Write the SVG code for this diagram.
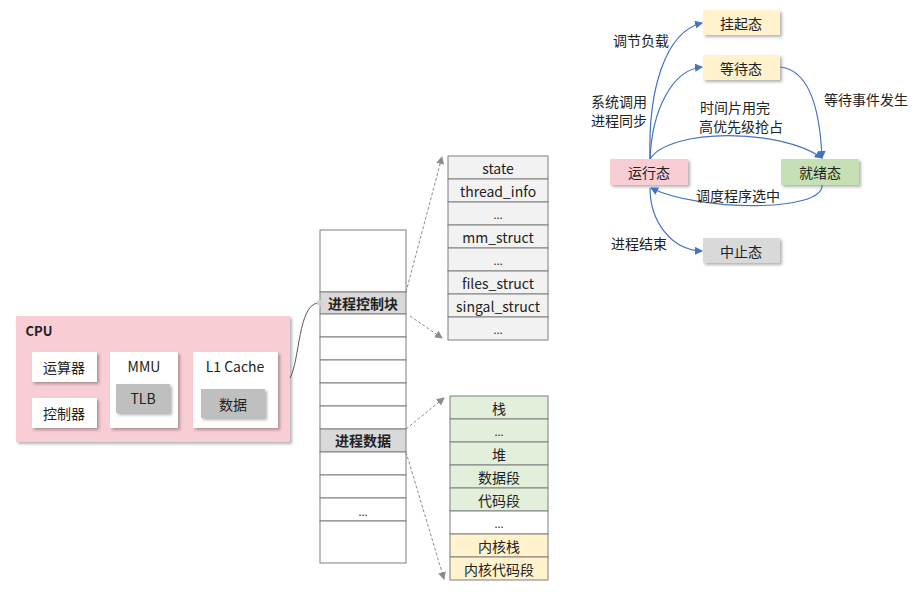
<svg xmlns="http://www.w3.org/2000/svg" width="922" height="592" viewBox="0 0 922 592">
<style>
text{font-family:"Microsoft YaHei","Noto Sans CJK SC","Liberation Sans",sans-serif;font-size:14px;fill:#222;text-anchor:middle;dominant-baseline:central}
.c{stroke:#7f7f7f;stroke-width:1;fill:#fff}
.g{stroke:#7f7f7f;stroke-width:1;fill:#f2f2f2}
.gr{stroke:#7f7f7f;stroke-width:1;fill:#e2efda}
.y{stroke:#7f7f7f;stroke-width:1;fill:#fff2cc}
.hl{stroke:#7f7f7f;stroke-width:1;fill:#d9d9d9}
.s{filter:url(#sh)}
.b{fill:none;stroke:#4472c4;stroke-width:1.2;marker-end:url(#ab)}
.d{fill:none;stroke:#8c8c8c;stroke-width:1;stroke-dasharray:3,2;marker-end:url(#ag)}
.bold{font-weight:bold}
</style>
<defs>
<filter id="sh" x="-10%" y="-10%" width="130%" height="140%"><feDropShadow dx="2" dy="2" stdDeviation="1.5" flood-color="#000" flood-opacity="0.3"/></filter>
<marker id="ab" markerWidth="8" markerHeight="8" refX="7" refY="4" orient="auto" markerUnits="userSpaceOnUse"><path d="M0,0 L8,4 L0,8 z" fill="#4472c4"/></marker>
<marker id="ag" markerWidth="8" markerHeight="8" refX="7" refY="4" orient="auto" markerUnits="userSpaceOnUse"><path d="M0,0 L8,4 L0,8 z" fill="#8c8c8c"/></marker>
</defs>

<g id="cpu">
<rect x="16" y="316" width="274" height="126" fill="#f8cdd4" class="s"/>
<text x="39" y="330" class="bold" style="font-size:13px">CPU</text>
<g id="alu"><rect x="32" y="352" width="65" height="30" fill="#fff" class="s"/><text x="64" y="367">运算器</text></g>
<g id="ctrl"><rect x="32" y="398" width="65" height="30" fill="#fff" class="s"/><text x="64" y="413">控制器</text></g>
<g id="mmu"><rect x="110" y="352" width="68" height="76" fill="#fff" class="s"/><text x="144" y="366">MMU</text>
<rect x="116" y="384" width="54" height="29" fill="#bfbfbf" class="s"/><text x="143" y="398">TLB</text></g>
<g id="l1"><rect x="193" y="352" width="85" height="76" fill="#fff" class="s"/><text x="235" y="366">L1 Cache</text>
<rect x="201" y="389" width="64" height="29" fill="#bfbfbf" class="s"/><text x="233" y="404">数据</text></g>
</g>

<g id="memory">
<rect x="320" y="230" width="86" height="62" class="c"/>
<rect x="320" y="292" width="86" height="22" class="hl"/><text x="363" y="303" class="bold">进程控制块</text>
<rect x="320" y="314" width="86" height="23" class="c"/>
<rect x="320" y="337" width="86" height="23" class="c"/>
<rect x="320" y="360" width="86" height="23" class="c"/>
<rect x="320" y="383" width="86" height="23" class="c"/>
<rect x="320" y="406" width="86" height="23" class="c"/>
<rect x="320" y="429" width="86" height="23" class="hl"/><text x="363" y="440" class="bold">进程数据</text>
<rect x="320" y="452" width="86" height="23" class="c"/>
<rect x="320" y="475" width="86" height="23" class="c"/>
<rect x="320" y="498" width="86" height="23" class="c"/><text x="363" y="511" style="font-size:11px">...</text>
<rect x="320" y="521" width="86" height="42" class="c"/>
</g>

<g id="pcb">
<rect x="448" y="156" width="100" height="23" class="g"/><text x="498" y="168">state</text>
<rect x="448" y="179" width="100" height="23" class="g"/><text x="498" y="191">thread_info</text>
<rect x="448" y="202" width="100" height="23" class="g"/><text x="498" y="214" style="font-size:11px">...</text>
<rect x="448" y="225" width="100" height="23" class="g"/><text x="498" y="237">mm_struct</text>
<rect x="448" y="248" width="100" height="23" class="g"/><text x="498" y="260" style="font-size:11px">...</text>
<rect x="448" y="271" width="100" height="23" class="g"/><text x="498" y="283">files_struct</text>
<rect x="448" y="294" width="100" height="23" class="g"/><text x="498" y="306">singal_struct</text>
<rect x="448" y="317" width="100" height="23" class="g"/><text x="498" y="329" style="font-size:11px">...</text>
</g>

<g id="data">
<rect x="450" y="396" width="98" height="23" class="gr"/><text x="499" y="408">栈</text>
<rect x="450" y="419" width="98" height="23" class="gr"/><text x="499" y="431" style="font-size:11px">...</text>
<rect x="450" y="442" width="98" height="23" class="gr"/><text x="499" y="454">堆</text>
<rect x="450" y="465" width="98" height="23" class="gr"/><text x="499" y="477">数据段</text>
<rect x="450" y="488" width="98" height="23" class="gr"/><text x="499" y="500">代码段</text>
<rect x="450" y="511" width="98" height="23" class="c"/><text x="499" y="523" style="font-size:11px">...</text>
<rect x="450" y="534" width="98" height="23" class="y"/><text x="499" y="546">内核栈</text>
<rect x="450" y="557" width="98" height="23" class="y"/><text x="499" y="569">内核代码段</text>
</g>

<g id="states">
<g id="s-hang"><rect x="703" y="10" width="77" height="25" fill="#fff2cc" class="s"/><text x="741" y="23">挂起态</text></g>
<g id="s-wait"><rect x="703" y="55" width="77" height="25" fill="#fff2cc" class="s"/><text x="741" y="68">等待态</text></g>
<g id="s-run"><rect x="610" y="159" width="78" height="26" fill="#f8cdd4" class="s"/><text x="649" y="172">运行态</text></g>
<g id="s-ready"><rect x="781" y="159" width="78" height="26" fill="#c5e0b4" class="s"/><text x="820" y="172">就绪态</text></g>
<g id="s-end"><rect x="703" y="238" width="77" height="25" fill="#d9d9d9" class="s"/><text x="741" y="251">中止态</text></g>
</g>

<g id="connectors">
<path d="M290,378 C300,360 298,305 318,303" fill="none" stroke="#595959" stroke-width="1"/>
<circle cx="320" cy="303" r="3" fill="#d0d0d0"/>
<path class="d" d="M406,292 L442,157"/>
<path class="d" d="M410,316 L442,338"/>
<path class="d" d="M406,429 L444,398"/>
<path class="d" d="M406,452 L444,579"/>
<path class="b" d="M650,159 C648,90 665,32 702,23"/>
<path class="b" d="M650,159 C652,110 672,70 702,67"/>
<path class="b" d="M650,159 C670,128 780,128 822,158"/>
<path class="b" d="M780,67 C810,70 820,110 822,158"/>
<path class="b" d="M822,185 C824,212 700,212 651,188"/>
<path class="b" d="M650,188 C650,220 670,250 702,251"/>
</g>

<g id="labels">
<text x="641" y="40">调节负载</text>
<text x="619" y="101">系统调用</text>
<text x="619" y="120">进程同步</text>
<text x="735" y="107">时间片用完</text>
<text x="741" y="126">高优先级抢占</text>
<text x="866" y="99">等待事件发生</text>
<text x="738" y="195">调度程序选中</text>
<text x="639" y="243">进程结束</text>
</g>
</svg>
